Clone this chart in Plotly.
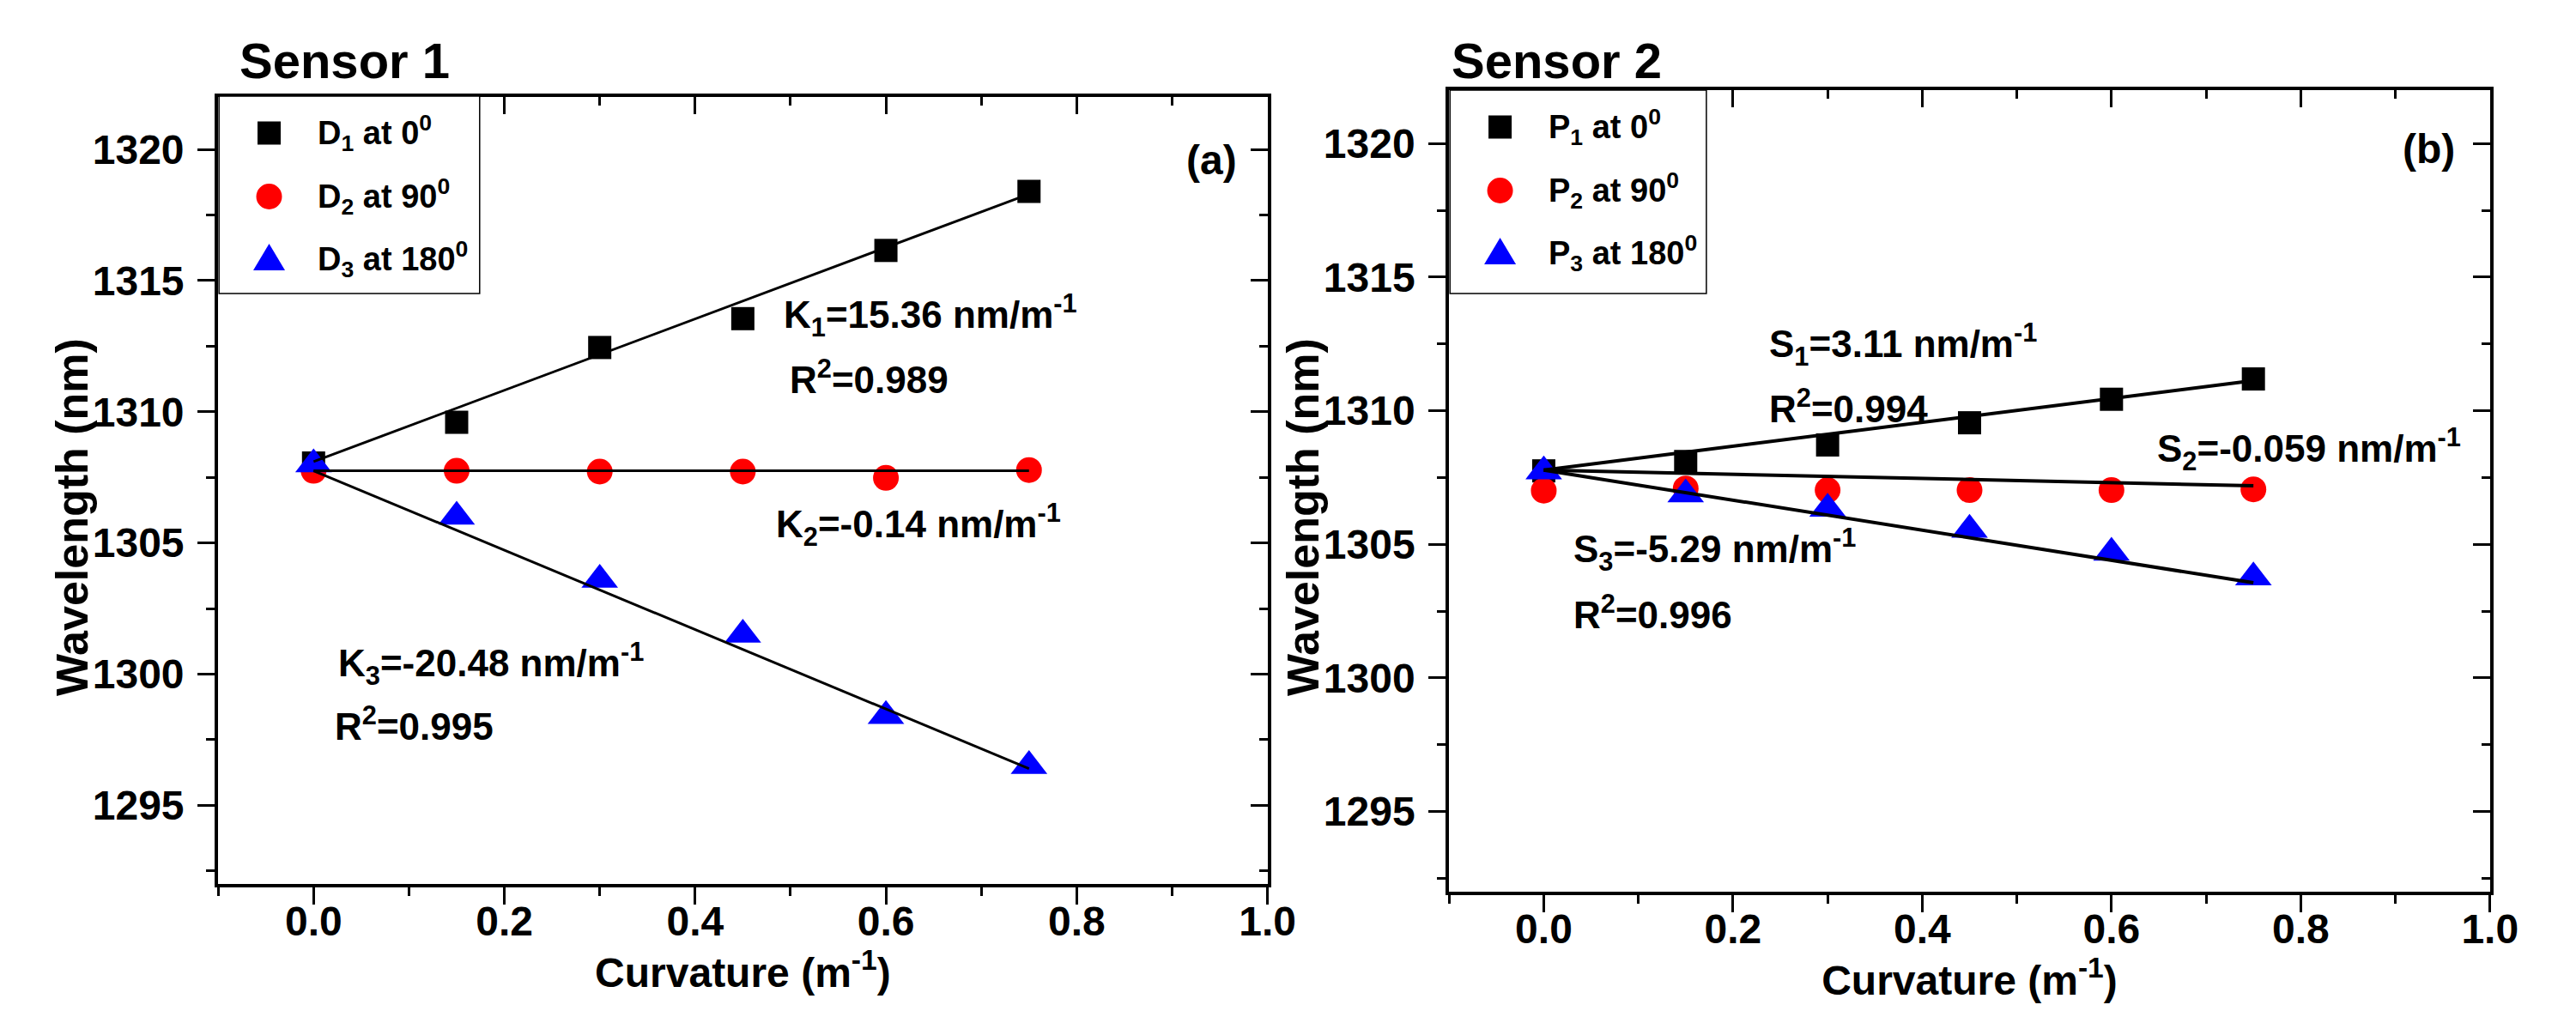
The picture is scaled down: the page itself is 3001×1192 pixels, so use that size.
import plotly.graph_objects as go

W, H = 3001, 1192

# ---------------- data ----------------
curvature = [0.0, 0.15, 0.30, 0.45, 0.60, 0.75]

# Sensor 1
D1 = [1308.05, 1309.6, 1312.45, 1313.55, 1316.15, 1318.4]
D2 = [1307.75, 1307.75, 1307.72, 1307.72, 1307.48, 1307.78]
D3 = [1308.0, 1306.0, 1303.6, 1301.5, 1298.4, 1296.5]

# Sensor 2
P1 = [1307.75, 1308.1, 1308.72, 1309.55, 1310.43, 1311.19]
P2 = [1307.01, 1307.09, 1307.03, 1307.03, 1307.03, 1307.06]
P3 = [1307.73, 1306.87, 1306.33, 1305.55, 1304.69, 1303.76]

# fitted lines (end points)
fit_x = [0.0, 0.75]
K1_fit = [1308.1, 1318.3]
K2_fit = [1307.75, 1307.75]
K3_fit = [1307.75, 1296.4]
S1_fit = [1307.78, 1311.13]
S2_fit = [1307.78, 1307.19]
S3_fit = [1307.78, 1303.56]

legend1_names = ["D<sub>1</sub> at 0<sup>0</sup>", "D<sub>2</sub> at 90<sup>0</sup>", "D<sub>3</sub> at 180<sup>0</sup>"]
legend2_names = ["P<sub>1</sub> at 0<sup>0</sup>", "P<sub>2</sub> at 90<sup>0</sup>", "P<sub>3</sub> at 180<sup>0</sup>"]

ann1_text = ["K<sub>1</sub>=15.36 nm/m<sup>-1</sup>", "R<sup>2</sup>=0.989",
             "K<sub>2</sub>=-0.14 nm/m<sup>-1</sup>",
             "K<sub>3</sub>=-20.48 nm/m<sup>-1</sup>", "R<sup>2</sup>=0.995"]
ann1_x = [0.4915, 0.497, 0.483, 0.0236, 0.020]
ann1_y = [1313.67, 1311.32, 1305.7, 1300.38, 1298.1]

ann2_text = ["S<sub>1</sub>=3.11 nm/m<sup>-1</sup>", "R<sup>2</sup>=0.994",
             "S<sub>2</sub>=-0.059 nm/m<sup>-1</sup>",
             "S<sub>3</sub>=-5.29 nm/m<sup>-1</sup>", "R<sup>2</sup>=0.996"]
ann2_x = [0.236, 0.236, 0.646, 0.0295, 0.0295]
ann2_y = [1312.48, 1310.17, 1308.56, 1304.8, 1302.45]

x_range = [-0.1, 1.0]
y_range = [1292, 1322]

# ---------------- style ----------------
FONT = "Liberation Sans, Arial, Helvetica, sans-serif"
colors = ["black", "red", "blue"]
symbols = ["square", "circle", "triangle-up"]
msizes = [27, 30, 37]

def pxx(p):
    return p / W

def pxy(p):
    return 1 - p / H

# panel pixel boxes: left, right, top, bottom
panels = [
    dict(box=(257, 1493, 113, 1030), xa="x", ya="y", xo="x3", yo="y3", lw=3),
    dict(box=(1707, 2933, 105, 1039), xa="x2", ya="y2", xo="x4", yo="y4", lw=4),
]

fig = go.Figure()

series_sets = [(D1, D2, D3), (P1, P2, P3)]
fit_sets = [(K1_fit, K2_fit, K3_fit), (S1_fit, S2_fit, S3_fit)]
names = [legend1_names, legend2_names]

for p, pan in enumerate(panels):
    for i, ys in enumerate(series_sets[p]):
        fig.add_trace(go.Scatter(
            x=curvature, y=ys, mode="markers", name=names[p][i],
            marker=dict(symbol=symbols[i], size=msizes[i], color=colors[i], line=dict(width=0)),
            xaxis=pan["xa"], yaxis=pan["ya"], showlegend=False))
    for fy in fit_sets[p]:
        fig.add_trace(go.Scatter(
            x=fit_x, y=fy, mode="lines", line=dict(color="black", width=pan["lw"]),
            xaxis=pan["xa"], yaxis=pan["ya"], showlegend=False, hoverinfo="skip"))
    # empty traces so the mirrored (inside-tick) axes are drawn
    fig.add_trace(go.Scatter(x=[], y=[], xaxis=pan["xo"], yaxis=pan["ya"], showlegend=False))
    fig.add_trace(go.Scatter(x=[], y=[], xaxis=pan["xa"], yaxis=pan["yo"], showlegend=False))

layout_axes = {}
annotations = []
for p, pan in enumerate(panels):
    l, r, t, b = pan["box"]
    xdom = [pxx(l), pxx(r)]
    ydom = [pxy(b), pxy(t)]
    common = dict(showline=True, linecolor="black", linewidth=4, showgrid=False, zeroline=False,
                  tickcolor="black", tickwidth=3, ticklen=20)
    xcommon = dict(common, range=x_range, tick0=0, dtick=0.2, tickformat=".1f")
    ycommon = dict(common, range=y_range, tick0=1295, dtick=5)
    xname = "xaxis" + ("" if pan["xa"] == "x" else pan["xa"][1:])
    yname = "yaxis" + ("" if pan["ya"] == "y" else pan["ya"][1:])
    xoname = "xaxis" + pan["xo"][1:]
    yoname = "yaxis" + pan["yo"][1:]
    layout_axes[xname] = dict(
        xcommon, domain=xdom, anchor=pan["ya"], ticks="outside",
        tickfont=dict(size=48), ticklabelstandoff=-22,
        minor=dict(dtick=0.1, tick0=0, ticks="outside", ticklen=10, tickwidth=3, tickcolor="black"),
        title=dict(text="Curvature (m<sup>-1</sup>)", font=dict(size=48), standoff=6))
    layout_axes[yname] = dict(
        ycommon, domain=ydom, anchor=pan["xa"], ticks="outside",
        tickfont=dict(size=48), ticklabelstandoff=6,
        minor=dict(dtick=2.5, tick0=1295, ticks="outside", ticklen=10, tickwidth=3, tickcolor="black"))
    layout_axes[xoname] = dict(
        xcommon, overlaying=pan["xa"], anchor=pan["ya"], side="top", ticks="inside",
        showticklabels=False,
        minor=dict(dtick=0.1, tick0=0, ticks="inside", ticklen=10, tickwidth=3, tickcolor="black"))
    layout_axes[yoname] = dict(
        ycommon, overlaying=pan["ya"], anchor=pan["xa"], side="right", ticks="inside",
        showticklabels=False,
        minor=dict(dtick=2.5, tick0=1295, ticks="inside", ticklen=10, tickwidth=3, tickcolor="black"))
    # y-axis title
    annotations.append(dict(text="Wavelength (nm)", x=pxx(l - 172), y=pxy(603), xref="paper",
                            yref="paper", xanchor="center", yanchor="middle", textangle=-90,
                            showarrow=False, font=dict(size=52)))

# in-plot annotations
for p, (txts, xs, ys) in enumerate([(ann1_text, ann1_x, ann1_y), (ann2_text, ann2_x, ann2_y)]):
    pan = panels[p]
    for t, x, y in zip(txts, xs, ys):
        annotations.append(dict(text=t, x=x, y=y, xref=pan["xa"], yref=pan["ya"],
                                xanchor="left", yanchor="middle", showarrow=False,
                                font=dict(size=44)))
# panel labels
annotations.append(dict(text="(a)", x=0.97, y=1319.58, xref="x", yref="y", xanchor="right",
                        yanchor="middle", showarrow=False, font=dict(size=48)))
annotations.append(dict(text="(b)", x=0.965, y=1319.8, xref="x2", yref="y2", xanchor="right",
                        yanchor="middle", showarrow=False, font=dict(size=48)))
# sensor titles
annotations.append(dict(text="Sensor 1", x=pxx(280), y=pxy(70), xref="paper", yref="paper",
                        xanchor="left", yanchor="middle", showarrow=False, font=dict(size=58)))
annotations.append(dict(text="Sensor 2", x=pxx(1708), y=pxy(70), xref="paper", yref="paper",
                        xanchor="left", yanchor="middle", showarrow=False, font=dict(size=58)))

# custom legends (boxes + symbols as shapes, labels as annotations)
shapes = []
legend_boxes = [(258, 565, 112, 342), (1708, 2010, 105, 342)]
item_offsets = [43, 117, 190]
for p, (l, r, t, b) in enumerate(legend_boxes):
    shapes.append(dict(type="rect", xref="paper", yref="paper", x0=pxx(l), x1=pxx(r),
                       y0=pxy(b), y1=pxy(t), fillcolor="white", line=dict(color="black", width=1.5),
                       layer="above"))
    sx = l + 59
    for i, off in enumerate(item_offsets):
        cy = t + off
        base = dict(xref="paper", yref="paper", xsizemode="pixel", ysizemode="pixel",
                    xanchor=pxx(sx), yanchor=pxy(cy), fillcolor=colors[i],
                    line=dict(width=0), layer="above")
        if i == 0:
            shapes.append(dict(base, type="rect", x0=-13.5, x1=13.5, y0=-13.5, y1=13.5))
        elif i == 1:
            shapes.append(dict(base, type="circle", x0=-15, x1=15, y0=-15, y1=15))
        else:
            shapes.append(dict(base, type="path", path="M-18.5,-13 L18.5,-13 L0,18 Z"))
        annotations.append(dict(text=names[p][i], x=pxx(l + 114), y=pxy(cy), xref="paper",
                                yref="paper", xanchor="left", yanchor="middle", showarrow=False,
                                font=dict(size=38)))

fig.update_layout(
    width=W, height=H, autosize=False,
    margin=dict(l=0, r=0, t=0, b=0, pad=0),
    paper_bgcolor="white", plot_bgcolor="white",
    font=dict(family=FONT, color="black", weight="bold"),
    showlegend=False,
    annotations=annotations, shapes=shapes,
    **layout_axes,
)

fig.write_html("out.html")
